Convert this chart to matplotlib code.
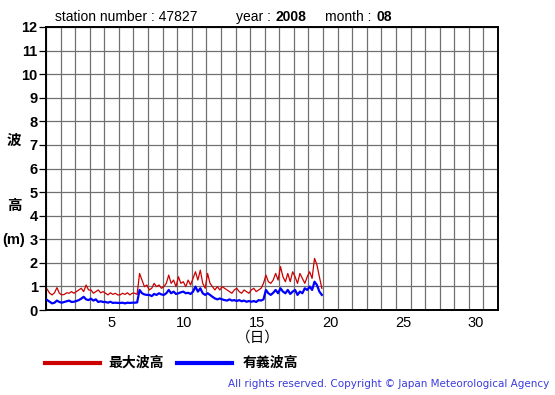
import numpy as np
import matplotlib
matplotlib.use("Agg")
import matplotlib.pyplot as plt

plt.rcParams['font.family'] = ['Liberation Sans', 'Noto Sans CJK JP', 'DejaVu Sans']

# 4-hourly readings, Aug 1 - Aug 19 (6 values per day)
max_wave = [
    0.88, 0.71, 0.64, 0.73, 0.95, 0.71,
    0.64, 0.66, 0.73, 0.71, 0.78, 0.71,
    0.78, 0.85, 0.92, 0.78, 1.06, 0.85,
    0.85, 0.71, 0.78, 0.85, 0.73, 0.78,
    0.71, 0.64, 0.73, 0.66, 0.71, 0.64,
    0.64, 0.71, 0.66, 0.73, 0.64, 0.71,
    0.71, 0.66, 1.55, 1.27, 0.99, 1.06,
    0.85, 0.92, 1.13, 0.99, 1.06, 0.92,
    0.99, 1.13, 1.48, 1.13, 1.27, 0.99,
    1.41, 1.13, 1.20, 0.99, 1.27, 1.06,
    1.34, 1.62, 1.27, 1.69, 1.13, 0.92,
    1.55, 1.13, 0.99, 0.85, 0.99, 0.85,
    0.99, 0.92, 0.85, 0.78, 0.71, 0.85,
    0.92, 0.78, 0.71, 0.85, 0.78, 0.71,
    0.85, 0.92, 0.78, 0.85, 0.92, 1.13,
    1.48, 1.20, 1.13, 1.27, 1.55, 1.27,
    1.84, 1.41, 1.20, 1.55, 1.20, 1.62,
    1.41, 1.13, 1.55, 1.34, 1.13, 1.41,
    1.62, 1.34, 2.19, 1.91, 1.41, 0.92,
]
sig_wave = [
    0.42, 0.35, 0.28, 0.31, 0.40, 0.34,
    0.31, 0.34, 0.37, 0.40, 0.34, 0.35,
    0.38, 0.42, 0.48, 0.56, 0.45, 0.42,
    0.48, 0.40, 0.45, 0.34, 0.37, 0.34,
    0.34, 0.31, 0.35, 0.30, 0.31, 0.30,
    0.30, 0.31, 0.28, 0.31, 0.30, 0.31,
    0.31, 0.32, 0.85, 0.71, 0.66, 0.64,
    0.64, 0.59, 0.68, 0.64, 0.71, 0.66,
    0.64, 0.71, 0.85, 0.71, 0.78, 0.68,
    0.71, 0.75, 0.78, 0.71, 0.73, 0.68,
    0.78, 0.99, 0.78, 0.92, 0.71, 0.64,
    0.71, 0.64, 0.56, 0.49, 0.45, 0.49,
    0.45, 0.42, 0.40, 0.45, 0.40, 0.42,
    0.38, 0.42, 0.37, 0.40, 0.35, 0.38,
    0.35, 0.38, 0.34, 0.42, 0.40, 0.45,
    0.85, 0.71, 0.64, 0.73, 0.85, 0.71,
    0.92, 0.78, 0.71, 0.85, 0.68, 0.78,
    0.85, 0.64, 0.78, 0.71, 0.92, 0.85,
    0.99, 0.85, 1.20, 1.06, 0.78, 0.64,
]
day_labels = [5, 10, 15, 20, 25, 30]
n_days = 31

hours = np.arange(len(max_wave)) * 4 + 2

W, H = 555, 395
fig = plt.figure(figsize=(W / 100, H / 100), dpi=100)
ax = fig.add_axes([46 / W, 1 - 310 / H, (498 - 46) / W, (310 - 27) / H])

ax.plot(hours, max_wave, color='#cc0000', lw=0.9, zorder=3)
ax.plot(hours, sig_wave, color='#0000ff', lw=1.6, zorder=4)

ax.set_xlim(0, n_days * 24)
ax.set_ylim(0, 12)
ax.set_xticks(np.arange(0, n_days * 24 + 1, 24), minor=True)
ax.set_xticks([(d - 0.5) * 24 for d in day_labels])
ax.set_xticklabels([str(d) for d in day_labels], fontsize=10.5)
ax.set_yticks(range(13))
ax.set_yticklabels([str(v) for v in range(13)], fontsize=10.5, fontweight='bold')
ax.grid(True, which='minor', axis='x', color='#707070', lw=0.9)
ax.grid(True, which='major', axis='y', color='#707070', lw=0.9)
ax.tick_params(axis='x', which='both', length=0, pad=4)
ax.tick_params(axis='y', length=5, width=0.9, pad=1)
for s in ax.spines.values():
    s.set_linewidth(1.4)


def ftext(x, y, s, **kw):
    fig.text(x / W, 1 - y / H, s, va='center', **kw)


# header
ftext(55, 17, 'station number : 47827', fontsize=10)
ftext(236, 17, 'year :', fontsize=10)
ftext(276, 17, '2008', fontsize=10, fontweight='bold')
ftext(325, 17, 'month :', fontsize=10)
ftext(377, 17, '08', fontsize=10, fontweight='bold')

# y label
ftext(14, 140, '波', fontsize=10.5, fontweight='bold', ha='center',
      family=['Noto Sans CJK JP'])
ftext(14, 205, '高', fontsize=10.5, fontweight='bold', ha='center',
      family=['Noto Sans CJK JP'])
ftext(14, 240, '(m)', fontsize=10.5, fontweight='bold', ha='center')

# x label
ftext(258, 338, '（日）', fontsize=10.5, ha='center', family=['Noto Sans CJK JP'])

# legend
fig.add_artist(plt.Line2D([45 / W, 100 / W], [1 - 363 / H] * 2, color='#cc0000', lw=3))
ftext(108, 363, '最大波高', fontsize=10, fontweight='bold', family=['Noto Sans CJK JP'])
fig.add_artist(plt.Line2D([177 / W, 232 / W], [1 - 363 / H] * 2, color='#0000ff', lw=3))
ftext(243, 363, '有義波高', fontsize=10, fontweight='bold', family=['Noto Sans CJK JP'])

ftext(549, 384, 'All rights reserved. Copyright © Japan Meteorological Agency',
      fontsize=7.5, color='#3b3bdd', ha='right', family=['DejaVu Sans'])

fig.savefig('out.png', dpi=100)
